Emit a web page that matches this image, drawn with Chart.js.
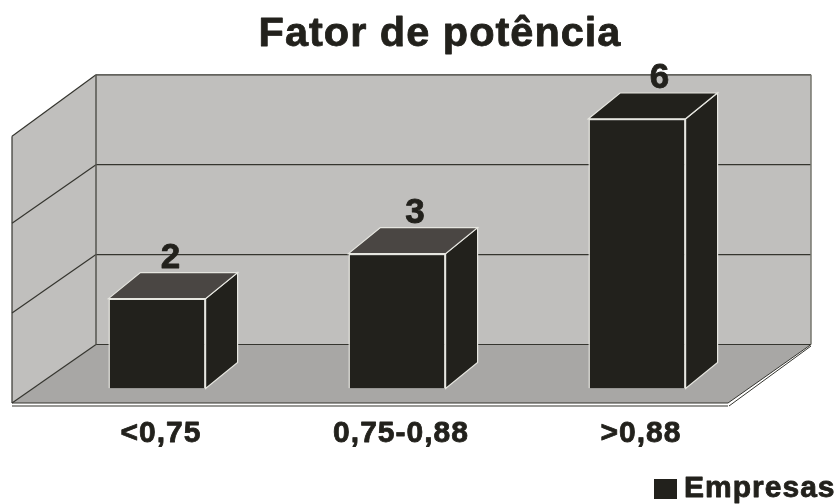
<!DOCTYPE html>
<html>
<head>
<meta charset="utf-8">
<style>html,body{margin:0;padding:0;background:#fff}canvas{display:block}</style>
<script src="https://cdn.jsdelivr.net/npm/chart.js@4/dist/chart.umd.min.js"></script>
</head>
<body>
<canvas id="c" width="837" height="504"></canvas>
<script>
const categories = ['<0,75', '0,75-0,88', '>0,88'];
const empresas = [2, 3, 6];
const gridValues = [0, 2, 4, 6];
const seriesName = 'Empresas';
const chartTitle = 'Fator de potência';

const INK = '#22211c';
const FONT = "'Liberation Sans', Arial, sans-serif";
const WALL = '#c0bfbd', FLOOR = '#a8a7a5', LINE = '#35352f', EDGE = '#e6e6e0';

// Oblique projection of the room around the plane the bars stand on
const room = {backLeft: 59, backRight: 54, frontLeft: -25, frontRight: -29, backShift: -44, frontShift: 14.5};
const barDepth = {dx: 32, dy: -26};
const topShades = ['#4a4643', '#4a4643', INK];

function poly(ctx, pts, fill, stroke, width) {
  ctx.beginPath();
  pts.forEach((p, i) => i ? ctx.lineTo(p[0], p[1]) : ctx.moveTo(p[0], p[1]));
  ctx.closePath();
  if (fill) { ctx.fillStyle = fill; ctx.fill(); }
  if (stroke) { ctx.strokeStyle = stroke; ctx.lineWidth = width || 1; ctx.stroke(); }
}
function seg(ctx, x1, y1, x2, y2, color, width) {
  ctx.beginPath(); ctx.moveTo(x1, y1); ctx.lineTo(x2, y2);
  ctx.strokeStyle = color; ctx.lineWidth = width || 1; ctx.stroke();
}

// Wider tracking and a heavier weight for every text drawn on the canvas
const typography = {
  id: 'typography',
  beforeInit(chart) {
    const ctx = chart.ctx, plainFill = ctx.fillText;
    ctx.fillText = function (text, x, y, maxWidth) {
      this.save();
      this.strokeStyle = this.fillStyle;
      this.lineWidth = 0.8;
      this.lineJoin = 'round';
      this.strokeText(text, x, y);
      this.restore();
      plainFill.call(this, text, x, y, maxWidth);
    };
  },
  beforeLayout(chart) { chart.ctx.letterSpacing = '1px'; },
  afterLayout(chart) {
    // The heading is centred a little right of the canvas middle
    chart.titleBlock.left += 3;
    chart.titleBlock.right += 3;
  },
  beforeDraw(chart) { chart.ctx.letterSpacing = '1px'; }
};

const roomPlugin = {
  id: 'room',
  beforeDatasetsDraw(chart) {
    const {ctx, chartArea: a, scales: {y}} = chart;
    const bx0 = a.left + room.backLeft, bx1 = a.right + room.backRight;
    const fx0 = a.left + room.frontLeft, fx1 = a.right + room.frontRight;
    const back = v => y.getPixelForValue(v) + room.backShift;
    const front = v => y.getPixelForValue(v) + room.frontShift;
    const top = Math.max(...gridValues);
    ctx.save();
    poly(ctx, [[bx0, back(top)], [bx1, back(top)], [bx1, back(0)], [bx0, back(0)]], WALL);
    poly(ctx, [[fx0, front(top) + 3], [bx0, back(top)], [bx0, back(0)], [fx0, front(0)]], WALL);
    poly(ctx, [[fx0, front(0)], [bx0, back(0)], [bx1, back(0)], [fx1, front(0)]], FLOOR);
    gridValues.forEach(v => {
      const lift = v === top ? 3 : 0;
      seg(ctx, fx0, front(v) + lift, bx0, back(v), LINE, 1.2);
      seg(ctx, bx0, back(v), bx1, back(v), LINE, 1.2);
    });
    seg(ctx, bx0, back(top), bx0, back(0), '#55554f', 1.5);
    seg(ctx, bx1, back(top), bx1, back(0), '#77776f', 1.5);
    seg(ctx, fx0, front(top) + 3, fx0, front(0), LINE, 1.2);
    // Front lip of the floor
    seg(ctx, fx0, front(0), fx1, front(0), LINE, 1.2);
    seg(ctx, fx0, front(0) + 3, fx1, front(0) + 3, LINE, 1.2);
    seg(ctx, fx1, front(0), bx1, back(0), LINE, 1);
    seg(ctx, fx1 + 1, front(0) + 3, bx1, back(0) + 1.5, LINE, 1);
    // Extruded sides of each bar, behind the front faces
    chart.getDatasetMeta(0).data.forEach((bar, i) => {
      const l = bar.x - bar.width / 2, r = bar.x + bar.width / 2, t = bar.y, b = bar.base;
      const {dx, dy} = barDepth;
      poly(ctx, [[r, t], [r + dx, t + dy], [r + dx, b + dy], [r, b]], INK, EDGE, 1.2);
      poly(ctx, [[l, t], [l + dx, t + dy], [r + dx, t + dy], [r, t]], topShades[i], EDGE, 1.2);
    });
    ctx.restore();
  },
  afterDatasetsDraw(chart) {
    const {ctx} = chart;
    ctx.save();
    ctx.font = 'bold 35px ' + FONT;
    ctx.fillStyle = INK;
    ctx.textAlign = 'center';
    ctx.textBaseline = 'alphabetic';
    chart.getDatasetMeta(0).data.forEach((bar, i) => {
      ctx.fillText(String(empresas[i]), bar.x + 14 + i * 4.5, bar.y - 31);
    });
    ctx.restore();
  }
};

// Legend swatch, wider than the slot the legend reserves so it sits close to its text
const swatch = document.createElement('canvas');
swatch.width = 23; swatch.height = 20;
const sctx = swatch.getContext('2d');
sctx.fillStyle = INK; sctx.fillRect(0, 0, 23, 20);

new Chart(document.getElementById('c'), {
  type: 'bar',
  data: {
    labels: categories,
    datasets: [{
      label: seriesName,
      data: empresas,
      backgroundColor: INK,
      borderColor: EDGE,
      borderWidth: 1.5,
      barPercentage: 0.405,
      categoryPercentage: 1
    }]
  },
  options: {
    responsive: false,
    animation: false,
    layout: {padding: {left: 37, right: 0, top: 0, bottom: -10}},
    scales: {
      x: {
        grid: {display: false, drawTicks: false},
        border: {display: false},
        ticks: {
          color: INK, padding: 27, labelOffset: 4, maxRotation: 0, autoSkip: false,
          font: {family: FONT, size: 30, weight: 'bold'}
        },
        afterFit(s) { s.height = 84; }
      },
      y: {display: false, min: 0, max: 6},
      yRight: {
        position: 'right', min: 0, max: 6,
        grid: {display: false}, border: {display: false},
        ticks: {display: false},
        afterFit(s) { s.width = 80; }
      }
    },
    plugins: {
      title: {
        display: true, text: chartTitle, color: INK,
        font: {family: FONT, size: 41.5, weight: 'bold'},
        padding: {top: 10, bottom: 59}
      },
      legend: {
        display: true, position: 'bottom', align: 'end',
        labels: {
          color: INK, padding: 1.5, usePointStyle: true, pointStyleWidth: 7,
          font: {family: FONT, size: 30, weight: 'bold'},
          generateLabels: () => [{text: seriesName, pointStyle: swatch, fillStyle: INK, strokeStyle: INK, lineWidth: 0, fontColor: INK}]
        }
      },
      tooltip: {enabled: false}
    }
  },
  plugins: [typography, roomPlugin]
});
</script>
</body>
</html>
